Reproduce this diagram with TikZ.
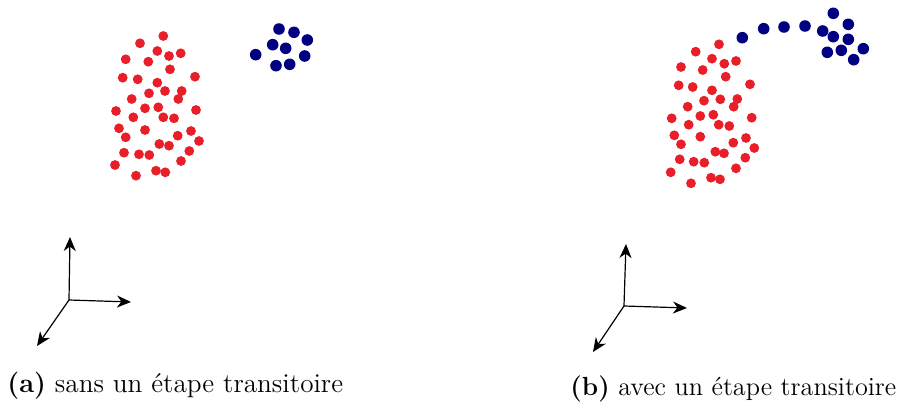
\documentclass[tikz,border=0pt]{standalone}
\usepackage{fontspec}
\usetikzlibrary{arrows.meta}
\definecolor{dotred}{RGB}{232,30,40}
\definecolor{dotblue}{RGB}{0,0,128}

\begin{document}
\begin{tikzpicture}[x=0.5pt,y=-0.5pt,
        axis/.style={line width=0.6pt,-{Stealth[length=7pt,width=6pt,inset=2.2pt]}},
        reddot/.style={fill=dotred},
        bluedot/.style={fill=dotblue},
        caption/.style={anchor=base west,inner sep=0pt,font=\fontsize{13.6}{16}\selectfont}]
        \useasboundingbox (0,0) rectangle (902,407);
        % (a) sans etape transitoire
        \foreach \x/\y in {163.3/36,140/43.3,157.3/51,169/56,180.7/53.3,125.7/59.3,148.3/61.7,
                170/69.3,122.7/77.7,137.7/79.3,195/76.7,157.3/82.7,165/91,149/93.3,181.7/91,
                178.3/99,131.7/99,116/111,145/108.3,158.3/107.3,196/110,133.3/117.3,163.3/117.3,
                174/118.3,119/128.3,145/130,191/131,125.7/137.3,177.7/135.7,199/141,159.3/144,
                169/145.7,124/152.7,139/154.3,149.3/155,189.3/151,181/161,115/165,156/170.7,
                165.3/172.3,136/175.7}
            \fill[reddot] (\x,\y) circle (2.45pt);
        \foreach \x/\y in {279/29,294/32.3,307.3/40,272.7/44.7,285.7/48.3,255.7/54.7,
                304.7/56,276/65.7,289.7/64.3}
            \fill[bluedot] (\x,\y) circle (2.9pt);
        \coordinate (o1) at (69,300);
        \coordinate (y1) at (70,237);
        \coordinate (x1) at (131,302);
        \coordinate (z1) at (37,346);
        \draw[axis] (o1) -- (y1);
        \draw[axis] (o1) -- (x1);
        \draw[axis] (o1) -- (z1);
        \node[caption] (capa) at (7,392) {\textbf{(a)} sans un étape transitoire};
        % (b) avec etape transitoire
        \foreach \x/\y in {719/44.3,695.7/51.7,712/58.7,724.3/63.7,736/61,681/67,702.7/70,
                725.7/76.7,678.7/85.3,692.7/87,750/84.3,712/90.3,720.3/99.3,704/100.7,737.3/99,
                733.7/106.7,687.7/106.7,671.7/118.3,700.3/116,713.3/114.7,751.7/117.7,688.7/124.7,
                718.7/124.7,729.3/126,674.3/135.3,700.3/136.7,746/138,681/144.3,733.3/142.7,
                754.3/148,715.3/151.7,724/153.3,679.7/159.3,693.7/161.7,704.3/162.7,745.3/157.7,
                736/168.3,670.7/172.3,711/177.7,720/179.3,691/183.3}
            \fill[reddot] (\x,\y) circle (2.45pt);
        \foreach \x/\y in {833.3/13.3,848.3/24.3,742.3/37.7,763.7/28.7,784/27,805/26,
                822.7/31,833.3/36.7,848.3/39.3,863.3/48.7,827.3/52.3,841.3/50.3,853.7/59.7}
            \fill[bluedot] (\x,\y) circle (2.9pt);
        \coordinate (o2) at (624,306);
        \coordinate (y2) at (626,244);
        \coordinate (x2) at (687,308);
        \coordinate (z2) at (593,352);
        \draw[axis] (o2) -- (y2);
        \draw[axis] (o2) -- (x2);
        \draw[axis] (o2) -- (z2);
        \node[caption,font=\fontsize{13.1}{16}\selectfont] (capb) at (570,395) {\textbf{(b)} avec un étape transitoire};
    \end{tikzpicture}
\end{document}
